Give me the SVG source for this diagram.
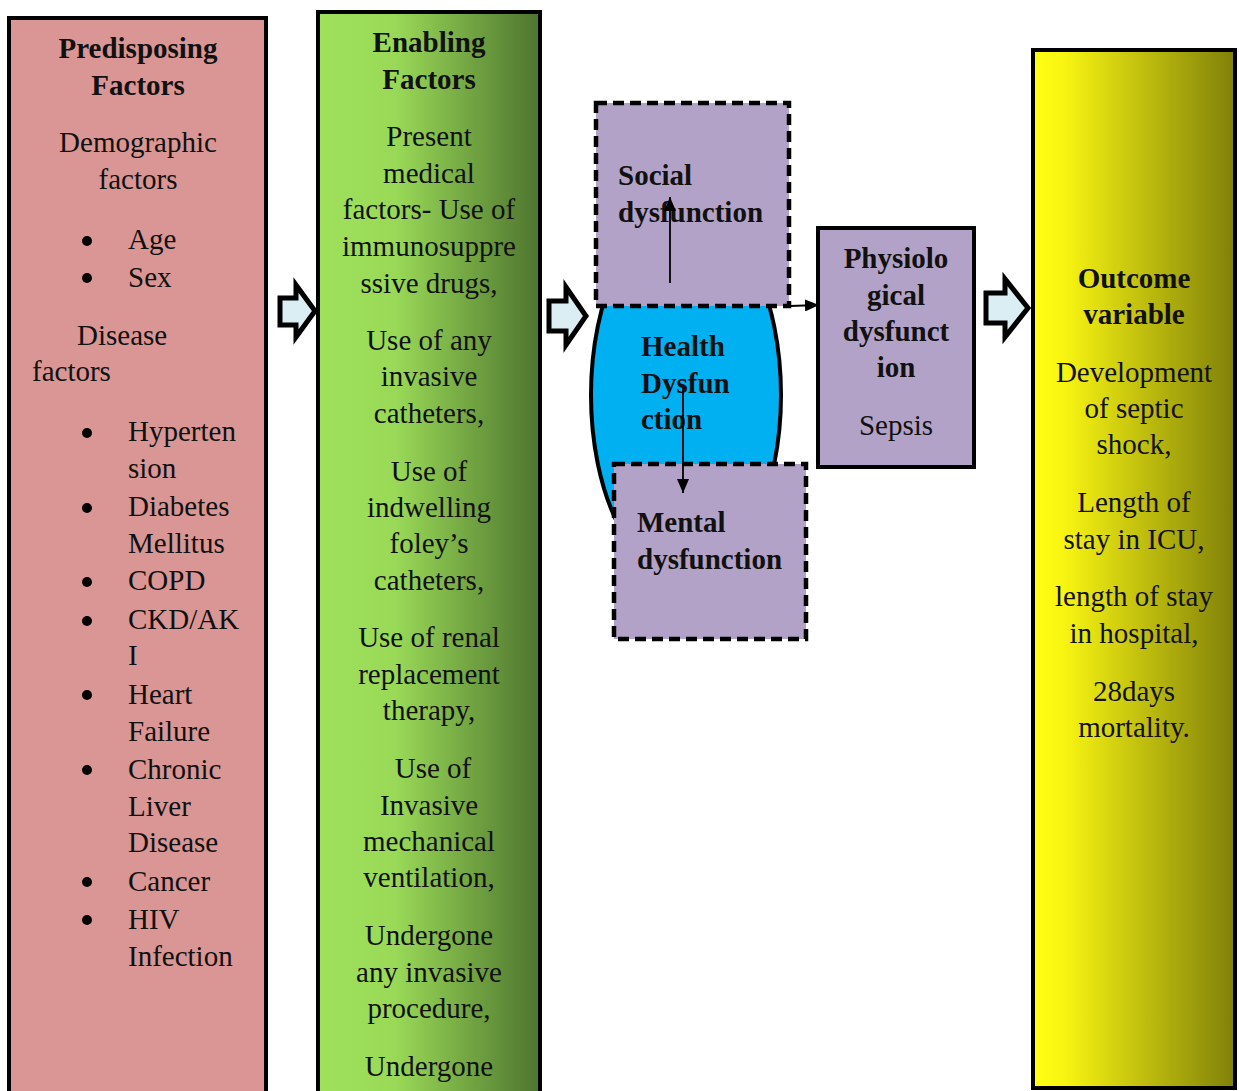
<svg xmlns="http://www.w3.org/2000/svg" width="1239" height="1091" viewBox="0 0 1239 1091">
<defs>
<linearGradient id="gGreen" x1="0" y1="0" x2="1" y2="0">
<stop offset="0" stop-color="#9fe15b"/>
<stop offset="0.35" stop-color="#99d957"/>
<stop offset="1" stop-color="#4e742f"/>
</linearGradient>
<linearGradient id="gYellow" x1="0" y1="0" x2="1" y2="0">
<stop offset="0" stop-color="#ffff12"/>
<stop offset="0.15" stop-color="#f8f512"/>
<stop offset="1" stop-color="#80800a"/>
</linearGradient>
<marker id="ah" viewBox="0 0 14 12" refX="14" refY="6" markerWidth="14" markerHeight="12" markerUnits="userSpaceOnUse" orient="auto">
<path d="M0,0 L14,6 L0,12 z" fill="#000"/>
</marker>
<style>
text{font-family:"Liberation Serif","Times New Roman",serif;font-size:29px;fill:#111}
.b{font-weight:bold}
.c{text-anchor:middle}
.box{stroke:#000;stroke-width:4}
.dash{stroke:#000;stroke-width:4.5;stroke-dasharray:11 6}
.purple{fill:#b3a2c7}
.blk{fill:#dbeef3;stroke:#000;stroke-width:5;stroke-linejoin:miter}
.ln{stroke:#000;stroke-width:1.8;fill:none}
</style>
</defs>

<g id="predisposing">
<rect class="box" x="9" y="18" width="257" height="1080" fill="#d99694"/>
<text class="b c" x="138" y="58">Predisposing</text>
<text class="b c" x="138" y="95">Factors</text>
<text class="c" x="138" y="152">Demographic</text>
<text class="c" x="138" y="189">factors</text>
<g fill="#000">
<circle cx="87" cy="241" r="5"/><circle cx="87" cy="278" r="5"/>
<circle cx="87" cy="433" r="5"/><circle cx="87" cy="508" r="5"/>
<circle cx="87" cy="582" r="5"/><circle cx="87" cy="621" r="5"/>
<circle cx="87" cy="695" r="5"/><circle cx="87" cy="770" r="5"/>
<circle cx="87" cy="882" r="5"/><circle cx="87" cy="920" r="5"/>
</g>
<text x="128" y="249">Age</text>
<text x="128" y="287">Sex</text>
<text x="77" y="345">Disease</text>
<text x="32" y="381">factors</text>
<text x="128" y="441">Hyperten</text>
<text x="128" y="478">sion</text>
<text x="128" y="516">Diabetes</text>
<text x="128" y="553">Mellitus</text>
<text x="128" y="590">COPD</text>
<text x="128" y="629">CKD/AK</text>
<text x="128" y="665">I</text>
<text x="128" y="704">Heart</text>
<text x="128" y="741">Failure</text>
<text x="128" y="779">Chronic</text>
<text x="128" y="816">Liver</text>
<text x="128" y="852">Disease</text>
<text x="128" y="891">Cancer</text>
<text x="128" y="929">HIV</text>
<text x="128" y="966">Infection</text>
</g>

<g id="enabling">
<rect class="box" x="318" y="12" width="222" height="1090" fill="url(#gGreen)"/>
<text class="b c" x="429" y="52">Enabling</text>
<text class="b c" x="429" y="89">Factors</text>
<text class="c" x="429" y="146">Present</text>
<text class="c" x="429" y="183">medical</text>
<text class="c" x="429" y="219">factors- Use of</text>
<text class="c" x="429" y="256">immunosuppre</text>
<text class="c" x="429" y="293">ssive drugs,</text>
<text class="c" x="429" y="350">Use of any</text>
<text class="c" x="429" y="386">invasive</text>
<text class="c" x="429" y="423">catheters,</text>
<text class="c" x="429" y="481">Use of</text>
<text class="c" x="429" y="517">indwelling</text>
<text class="c" x="429" y="553">foley’s</text>
<text class="c" x="429" y="590">catheters,</text>
<text class="c" x="429" y="647">Use of renal</text>
<text class="c" x="429" y="684">replacement</text>
<text class="c" x="429" y="720">therapy,</text>
<text class="c" x="433" y="778">Use of</text>
<text class="c" x="429" y="815">Invasive</text>
<text class="c" x="429" y="851">mechanical</text>
<text class="c" x="429" y="887">ventilation,</text>
<text class="c" x="429" y="945">Undergone</text>
<text class="c" x="429" y="982">any invasive</text>
<text class="c" x="429" y="1018">procedure,</text>
<text class="c" x="429" y="1076">Undergone</text>
</g>

<g id="health">
<ellipse cx="686" cy="395" rx="95" ry="185" fill="#00b0f0" stroke="#000" stroke-width="4"/>
</g>

<g id="social">
<rect class="dash purple" x="596" y="103" width="193" height="203"/>
<text class="b" x="618" y="185">Social</text>
<text class="b" x="618" y="222">dysfunction</text>
</g>

<g id="health-label">
<text class="b" x="641" y="356">Health</text>
<text class="b" x="641" y="393">Dysfun</text>
<text class="b" x="641" y="429">ction</text>
</g>

<g id="mental">
<rect class="dash purple" x="614" y="464" width="192" height="175"/>
<text class="b" x="637" y="532">Mental</text>
<text class="b" x="637" y="569">dysfunction</text>
</g>

<g id="physiological">
<rect class="box purple" x="818" y="228" width="156" height="239"/>
<text class="b c" x="896" y="268">Physiolo</text>
<text class="b c" x="896" y="305">gical</text>
<text class="b c" x="896" y="341">dysfunct</text>
<text class="b c" x="896" y="377">ion</text>
<text class="c" x="896" y="435">Sepsis</text>
</g>

<g id="outcome">
<rect class="box" x="1033" y="50" width="202" height="1038" fill="url(#gYellow)"/>
<text class="b c" x="1134" y="288">Outcome</text>
<text class="b c" x="1134" y="324">variable</text>
<text class="c" x="1134" y="382">Development</text>
<text class="c" x="1134" y="418">of septic</text>
<text class="c" x="1134" y="454">shock,</text>
<text class="c" x="1134" y="512">Length of</text>
<text class="c" x="1134" y="549">stay in ICU,</text>
<text class="c" x="1134" y="606">length of stay</text>
<text class="c" x="1134" y="643">in hospital,</text>
<text class="c" x="1134" y="701">28days</text>
<text class="c" x="1134" y="737">mortality.</text>
</g>

<g id="connectors">
<path class="blk" d="M280,298 L296,298 L296,285 L315,311 L296,337 L296,325 L280,325 Z"/>
<path class="blk" d="M549,301 L566,301 L566,287 L586,316 L566,345 L566,331 L549,331 Z"/>
<path class="blk" d="M986,293 L1005,293 L1005,279 L1028,308 L1005,337 L1005,323 L986,323 Z"/>
<line class="ln" x1="670" y1="283" x2="670" y2="197" marker-end="url(#ah)"/>
<line class="ln" x1="683" y1="388" x2="683" y2="493" marker-end="url(#ah)"/>
<line class="ln" x1="790" y1="306" x2="819" y2="305" marker-end="url(#ah)"/>
</g>
</svg>
